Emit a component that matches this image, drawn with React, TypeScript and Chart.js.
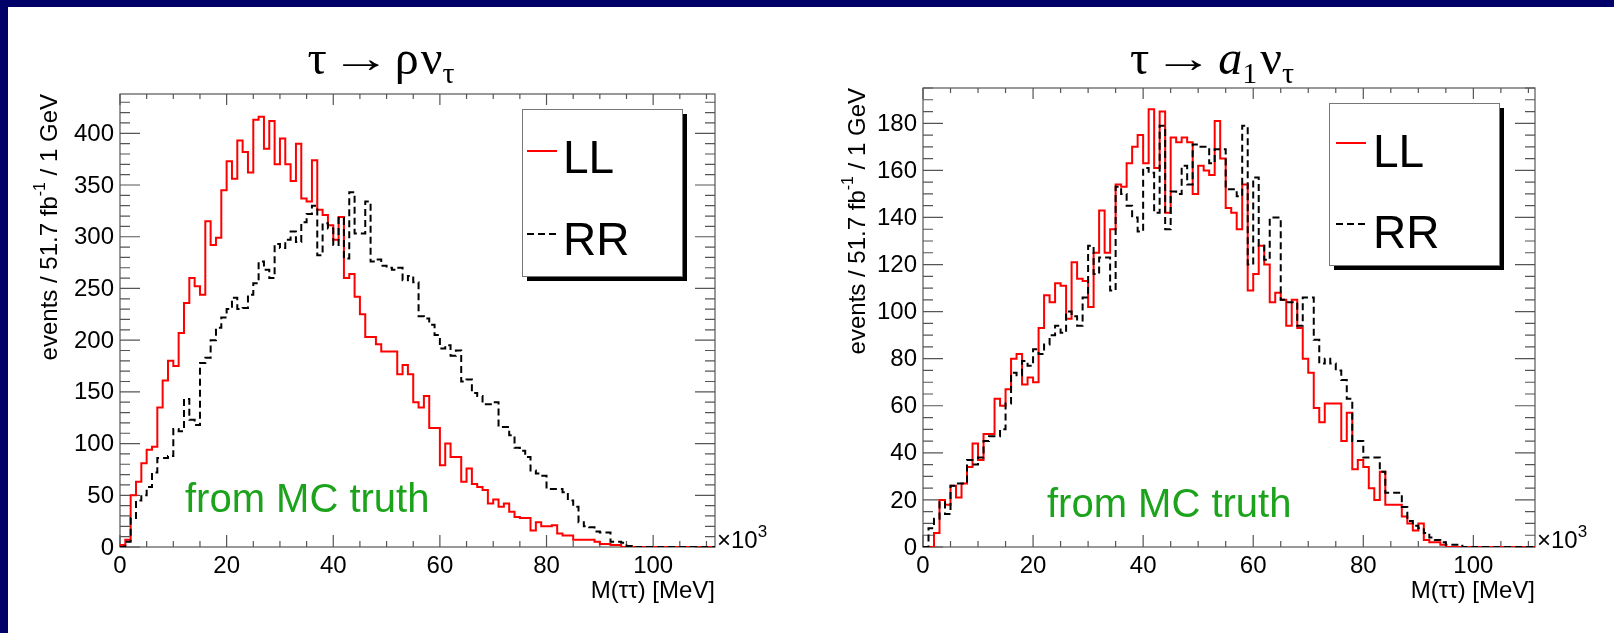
import React, { useEffect, useRef } from "react";
import { Chart, registerables } from "chart.js";

Chart.register(...registerables);

// Bin contents, 1 GeV bins starting at M(ττ) = 0 (x axis in units of 10^3 MeV)
const rhoLL = [
  2, 7, 50, 63, 81, 94, 97, 135, 161, 180,
  175, 207, 236, 260, 252, 244, 315, 292, 299, 345,
  373, 356, 393, 382, 362, 413, 416, 385, 412, 370,
  395, 370, 354, 390, 337, 334, 374, 326, 321, 311,
  297, 319, 260, 264, 242, 225, 203, 203, 196, 189,
  189, 189, 167, 176, 167, 140, 135, 146, 115, 115,
  79, 100, 87, 87, 63, 76, 61, 58, 55, 42,
  46, 39, 42, 34, 29, 28, 28, 16, 24, 20,
  20, 21, 13, 11, 11, 7, 7, 7, 7, 5,
  3, 3, 2, 2, 0, 0, 0, 0, 0, 0,
  0, 0, 0, 0, 0, 0, 0, 0, 0, 0,
  0, 0,
];

const rhoRR = [
  0, 5, 28, 45, 50, 58, 72, 86, 86, 88,
  114, 112, 143, 123, 118, 178, 183, 200, 212, 222,
  230, 241, 230, 231, 244, 255, 276, 268, 260, 293,
  289, 297, 305, 295, 314, 322, 330, 282, 313, 308,
  292, 318, 279, 343, 303, 303, 334, 276, 278, 272,
  270, 268, 270, 258, 262, 256, 223, 221, 215, 205,
  192, 195, 185, 190, 160, 162, 149, 146, 138, 138,
  140, 116, 116, 108, 96, 93, 87, 74, 71, 69,
  56, 56, 56, 53, 45, 39, 24, 20, 19, 15,
  14, 14, 5, 5, 4, 1, 0, 0, 0, 0,
  0, 0, 0, 0, 0, 0, 0, 0, 0, 0,
  0, 0,
];

const a1LL = [
  0, 0, 6, 20, 18, 26, 21, 27, 34, 44,
  37, 48, 48, 63, 60, 67, 80, 82, 69, 72,
  70, 93, 107, 104, 112, 111, 97, 121, 114, 113,
  102, 125, 143, 125, 135, 154, 153, 163, 170, 175,
  163, 186, 161, 185, 142, 174, 172, 174, 172, 150,
  162, 160, 158, 181, 165, 144, 142, 135, 154, 109,
  116, 128, 120, 104, 108, 105, 94, 105, 93, 80,
  74, 59, 53, 61, 61, 61, 45, 57, 33, 37,
  34, 25, 20, 32, 18, 18, 18, 13, 10, 7,
  10, 3, 2, 2, 1, 0, 0, 0, 0, 0,
  0, 0, 0, 0, 0, 0, 0, 0, 0, 0,
  0, 0,
];

const a1RR = [
  0, 8, 12, 19, 14, 26, 27, 27, 37, 35,
  38, 45, 47, 47, 50, 61, 74, 73, 79, 77,
  84, 82, 86, 90, 94, 91, 100, 98, 94, 106,
  128, 116, 123, 123, 109, 153, 150, 145, 140, 134,
  161, 159, 142, 179, 135, 151, 150, 162, 154, 171,
  170, 170, 163, 169, 169, 152, 152, 149, 179, 120,
  157, 128, 122, 140, 140, 105, 104, 104, 94, 106,
  106, 88, 78, 80, 78, 75, 71, 63, 45, 45,
  38, 38, 38, 32, 23, 23, 23, 17, 11, 9,
  8, 6, 4, 3, 2, 1, 1, 1, 0, 0,
  0, 0, 0, 0, 0, 0, 0, 0, 0, 0,
  0, 0,
];

const binWidth = 1;
const seriesNames = ["LL", "RR"];
const xTickLabels = [0, 20, 40, 60, 80, 100];
const rhoYTicks = [0, 50, 100, 150, 200, 250, 300, 350, 400];
const a1YTicks = [0, 20, 40, 60, 80, 100, 120, 140, 160, 180];
const yTitleParts = ["events / 51.7 fb", "-1", " / 1 GeV"];
const xTitle = "M(ττ) [MeV]";
const noteText = "from MC truth";

const SANS = '"Liberation Sans", Arial, Helvetica, sans-serif';
const SERIF = '"Liberation Serif", "DejaVu Serif", "Times New Roman", serif';
const sans = (px: number) => `${px}px ${SANS}`;
const serif = (px: number, style = "") => `${style} ${px}px ${SERIF}`.trim();

const RED = "#ff0000";
const GREEN = "#1ca31c";
const FRAME = "#555555";

// sx stretches a glyph horizontally (used for the long reaction arrow)
type Seg = { text: string; font: string; dy?: number; dx?: number; sx?: number };

function segWidth(ctx: CanvasRenderingContext2D, segs: Seg[]) {
  let w = 0;
  for (const s of segs) {
    ctx.font = s.font;
    w += ctx.measureText(s.text).width * (s.sx || 1) + (s.dx || 0);
  }
  return w;
}

function drawSegs(ctx: CanvasRenderingContext2D, segs: Seg[], x: number, y: number) {
  let cx = x;
  ctx.textAlign = "left";
  for (const s of segs) {
    ctx.font = s.font;
    cx += s.dx || 0;
    const sx = s.sx || 1;
    if (sx !== 1) {
      ctx.save();
      ctx.translate(cx, y + (s.dy || 0));
      ctx.scale(sx, 1);
      ctx.fillText(s.text, 0, 0);
      ctx.restore();
    } else {
      ctx.fillText(s.text, cx, y + (s.dy || 0));
    }
    cx += ctx.measureText(s.text).width * sx;
  }
}

function toPoints(vals: number[]) {
  const pts = [{ x: 0, y: 0 }];
  vals.forEach((v, i) => pts.push({ x: i * binWidth, y: v }));
  pts.push({ x: vals.length * binWidth, y: vals[vals.length - 1] });
  return pts;
}

type Panel = {
  ll: number[];
  rr: number[];
  yTicks: number[];
  yMax: number;
  yMinor: number;
  yMajor: number;
  xMax: number;
  left: number;
  width: number;
  padding: { left: number; right: number; top: number; bottom: number };
  title: Seg[];
  titleX: number;
  titleY: number;
  yTitleX: number;
  legend: { x: number; y: number; w: number; h: number; lineX: number; textX: number; rows: { lineY: number; baseY: number }[] };
  note: { x: number; y: number };
};

const titleFont = serif(48);
const subFont = serif(30);
const arrow: Seg = { text: "→", font: serif(40), sx: 1.5, dx: 4, dy: -2 };

const panels: Panel[] = [
  {
    ll: rhoLL,
    rr: rhoRR,
    yTicks: rhoYTicks,
    yMax: 438,
    yMinor: 10,
    yMajor: 50,
    xMax: 111.6,
    left: 0,
    width: 800,
    padding: { left: 120, right: 85, top: 94, bottom: 86 },
    title: [
      { text: "τ", font: titleFont },
      arrow,
      { text: "ρ", font: titleFont, dx: 4 },
      { text: "ν", font: titleFont, dx: 2 },
      { text: "τ", font: subFont, dy: 9 },
    ],
    titleX: 381,
    titleY: 74,
    yTitleX: 50,
    legend: {
      x: 522, y: 109, w: 160, h: 167, lineX: 527, textX: 563,
      rows: [{ lineY: 151, baseY: 173 }, { lineY: 234, baseY: 255 }],
    },
    note: { x: 185, y: 512 },
  },
  {
    ll: a1LL,
    rr: a1RR,
    yTicks: a1YTicks,
    yMax: 195,
    yMinor: 5,
    yMajor: 20,
    xMax: 111.2,
    left: 800,
    width: 814,
    padding: { left: 123, right: 79, top: 88, bottom: 86 },
    title: [
      { text: "τ", font: titleFont },
      arrow,
      { text: "a", font: serif(48, "italic"), dx: 5 },
      { text: "1", font: subFont, dy: 9 },
      { text: "ν", font: titleFont, dx: 3 },
      { text: "τ", font: subFont, dy: 9 },
    ],
    titleX: 412,
    titleY: 74,
    yTitleX: 58,
    legend: {
      x: 529, y: 103, w: 170, h: 162, lineX: 536, textX: 573,
      rows: [{ lineY: 143, baseY: 167 }, { lineY: 224, baseY: 248 }],
    },
    note: { x: 247, y: 517 },
  },
];

function isMultiple(v: number, step: number) {
  const r = v / step;
  return Math.abs(r - Math.round(r)) < 1e-6;
}

function makeDecor(p: Panel) {
  return {
    id: "rootDecor",
    beforeDatasetsDraw(chart: any) {
      const { ctx, chartArea: a, scales } = chart;
      const xs = scales.x;
      const ys = scales.y;
      ctx.save();
      ctx.strokeStyle = FRAME;
      ctx.lineWidth = 1.2;
      ctx.strokeRect(a.left, a.top, a.right - a.left, a.bottom - a.top);
      ctx.beginPath();
      // x axis ticks (bottom and top, pointing inward)
      for (let v = 0; v <= p.xMax + 1e-9; v += 5) {
        const px = xs.getPixelForValue(v);
        const major = isMultiple(v, 20);
        ctx.moveTo(px, a.bottom);
        ctx.lineTo(px, a.bottom - (major ? 12 : 6));
        ctx.moveTo(px, a.top);
        ctx.lineTo(px, a.top + (major ? 11 : 5));
      }
      // y axis ticks (left and right)
      for (let v = 0; v <= p.yMax + 1e-9; v += p.yMinor) {
        const py = ys.getPixelForValue(v);
        const major = isMultiple(v, p.yMajor);
        ctx.moveTo(a.left, py);
        ctx.lineTo(a.left + (major ? 20 : 10), py);
        ctx.moveTo(a.right, py);
        ctx.lineTo(a.right - (major ? 20 : 10), py);
      }
      ctx.stroke();
      ctx.restore();
    },
    afterDraw(chart: any) {
      const { ctx, chartArea: a, scales } = chart;
      const xs = scales.x;
      const ys = scales.y;
      ctx.save();
      ctx.fillStyle = "#000";

      // tick labels
      ctx.font = sans(24);
      ctx.textAlign = "center";
      ctx.textBaseline = "alphabetic";
      for (const v of xTickLabels) {
        ctx.fillText(String(v), xs.getPixelForValue(v), a.bottom + 26);
      }
      ctx.textAlign = "right";
      ctx.textBaseline = "middle";
      for (const v of p.yTicks) {
        ctx.fillText(String(v), a.left - 6, ys.getPixelForValue(v) + 1);
      }

      // multiplier at the end of the x axis
      ctx.textBaseline = "alphabetic";
      drawSegs(ctx, [
        { text: "×10", font: sans(24) },
        { text: "3", font: sans(17), dy: -11 },
      ], a.right + 2, a.bottom + 1);

      // x axis title, right-aligned to the frame
      ctx.font = sans(24);
      ctx.textAlign = "right";
      ctx.fillText(xTitle, a.right, a.bottom + 51);

      // y axis title, rotated and ending at the frame top
      const ySegs: Seg[] = [
        { text: yTitleParts[0], font: sans(24) },
        { text: yTitleParts[1], font: sans(16), dy: -9 },
        { text: yTitleParts[2], font: sans(24) },
      ];
      ctx.save();
      ctx.translate(p.yTitleX, a.top);
      ctx.rotate(-Math.PI / 2);
      ctx.textBaseline = "middle";
      const yw = segWidth(ctx, ySegs);
      drawSegs(ctx, ySegs, -yw, 0);
      ctx.restore();

      // panel title
      ctx.textBaseline = "alphabetic";
      const tw = segWidth(ctx, p.title);
      drawSegs(ctx, p.title, p.titleX - tw / 2, p.titleY);

      // legend box with drop shadow
      const L = p.legend;
      ctx.fillStyle = "#000";
      ctx.fillRect(L.x + 5, L.y + 5, L.w, L.h);
      ctx.fillStyle = "#fff";
      ctx.fillRect(L.x, L.y, L.w, L.h);
      ctx.strokeStyle = "#777";
      ctx.lineWidth = 1;
      ctx.strokeRect(L.x + 0.5, L.y + 0.5, L.w, L.h);
      const styles = [
        { color: RED, dash: [] as number[] },
        { color: "#000", dash: [7, 4] },
      ];
      seriesNames.forEach((name, i) => {
        const r = L.rows[i];
        ctx.strokeStyle = styles[i].color;
        ctx.lineWidth = 2;
        ctx.setLineDash(styles[i].dash);
        ctx.beginPath();
        ctx.moveTo(L.lineX, r.lineY);
        ctx.lineTo(L.lineX + 30, r.lineY);
        ctx.stroke();
        ctx.setLineDash([]);
        ctx.fillStyle = "#000";
        ctx.font = sans(46);
        ctx.textAlign = "left";
        ctx.fillText(name, L.textX, r.baseY);
      });

      // annotation
      ctx.fillStyle = GREEN;
      ctx.font = sans(40);
      ctx.textAlign = "left";
      ctx.fillText(noteText, p.note.x, p.note.y);
      ctx.restore();
    },
  };
}

function HistPanel({ panel }: { panel: Panel }) {
  const ref = useRef<HTMLCanvasElement | null>(null);
  useEffect(() => {
    if (!ref.current) return;
    const chart = new Chart(ref.current, {
      type: "line",
      data: {
        datasets: [
          {
            label: seriesNames[0],
            data: toPoints(panel.ll),
            borderColor: RED,
            borderWidth: 2,
            pointRadius: 0,
            stepped: "before",
            fill: false,
            order: 2,
          },
          {
            label: seriesNames[1],
            data: toPoints(panel.rr),
            borderColor: "#000",
            borderWidth: 2,
            borderDash: [7, 4],
            pointRadius: 0,
            stepped: "before",
            fill: false,
            order: 1,
          },
        ],
      },
      options: {
        animation: false,
        responsive: false,
        maintainAspectRatio: false,
        devicePixelRatio: 1,
        events: [],
        layout: { padding: panel.padding },
        scales: {
          x: { type: "linear", min: 0, max: panel.xMax, display: false },
          y: { type: "linear", min: 0, max: panel.yMax, display: false },
        },
        plugins: {
          legend: { display: false },
          tooltip: { enabled: false },
          title: { display: false },
        },
      },
      plugins: [makeDecor(panel)],
    } as any);
    return () => chart.destroy();
  }, [panel]);
  return (
    <canvas
      ref={ref}
      width={panel.width}
      height={633}
      style={{ position: "absolute", left: panel.left, top: 0, width: panel.width, height: 633 }}
    />
  );
}

export default function App() {
  return (
    <div
      style={{
        position: "fixed",
        left: 0,
        top: 0,
        width: 1614,
        height: 633,
        background: "#fff",
        overflow: "hidden",
      }}
    >
      {panels.map((p, i) => (
        <HistPanel key={i} panel={p} />
      ))}
      <div style={{ position: "absolute", left: 0, top: 0, width: 1614, height: 7, background: "#000068" }} />
      <div style={{ position: "absolute", left: 0, top: 0, width: 8, height: 633, background: "#000068" }} />
    </div>
  );
}
